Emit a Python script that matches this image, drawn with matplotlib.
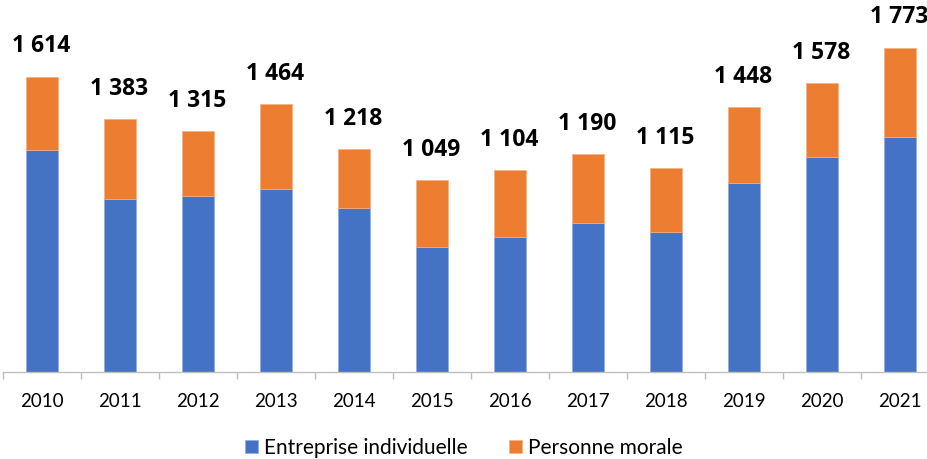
import matplotlib.pyplot as plt
import numpy as np

plt.rcParams['font.family'] = ['Lato', 'DejaVu Sans']

years = ['2010', '2011', '2012', '2013', '2014', '2015',
         '2016', '2017', '2018', '2019', '2020', '2021']
totals = [1614, 1383, 1315, 1464, 1218, 1049, 1104, 1190, 1115, 1448, 1578, 1773]
individuelle = [1214, 946, 964, 999, 898, 683, 736, 815, 767, 1035, 1177, 1287]
morale = [t - e for t, e in zip(totals, individuelle)]

blue = '#4472C4'
orange = '#ED7D31'

fig = plt.figure(figsize=(9.28, 4.59), dpi=100)
# axes run past the right edge, as in the cropped original
ax = fig.add_axes([3 / 928, 87 / 459, 936 / 928, 372 / 459])

x = np.arange(len(years))
ax.bar(x, individuelle, width=0.4, color=blue, edgecolor='#8FAADC', linewidth=0.5,
       label='Entreprise individuelle')
ax.bar(x, morale, width=0.4, bottom=individuelle, color=orange, edgecolor='#F4B183',
       linewidth=0.5, label='Personne morale')

for xi, t in zip(x, totals):
    label = f'{t:,}'.replace(',', ' ')
    ax.annotate(label, (xi, t), xytext=(-0.5, 22), textcoords='offset points',
                ha='center', va='center', fontsize=16.5, fontweight='bold',
                family=['Open Sans', 'DejaVu Sans'])

ax.set_xlim(-0.5, len(years) - 0.5)
ax.set_ylim(0, 2034)

for side in ['top', 'right', 'left']:
    ax.spines[side].set_visible(False)
ax.spines['bottom'].set_color('#BFBFBF')
ax.spines['bottom'].set_linewidth(1)
ax.set_yticks([])

ax.set_xticks(x)
ax.set_xticklabels(years, fontsize=13.5)
ax.tick_params(axis='x', which='major', length=0, pad=15)
ax.set_xticks(np.arange(-0.5, len(years), 1), minor=True)
ax.tick_params(axis='x', which='minor', length=5, color='#BFBFBF', width=1)

fig.legend(loc='center', bbox_to_anchor=(0.5, 11 / 459), ncol=2, frameon=False,
           fontsize=15, handlelength=0.6, handleheight=0.6, handletextpad=0.3,
           columnspacing=2.0)

fig.savefig('out.png', dpi=100)
